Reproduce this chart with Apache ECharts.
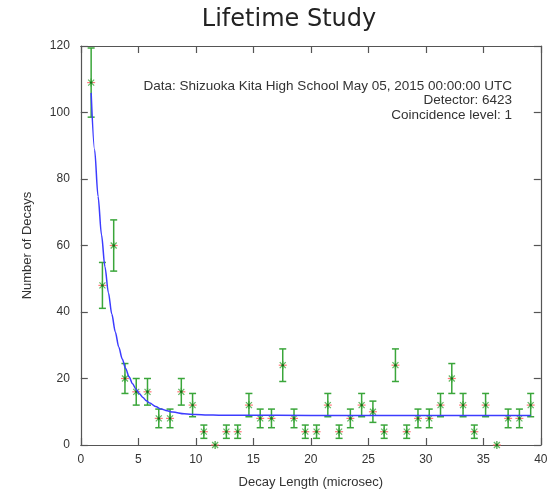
<!DOCTYPE html>
<html>
<head>
<meta charset="utf-8">
<script src="https://cdn.jsdelivr.net/npm/echarts@6/dist/echarts.min.js"></script>
<style>
  html, body { margin: 0; padding: 0; background: #ffffff; }
  #chart { width: 553px; height: 490px; }
</style>
</head>
<body>
<div id="chart"></div>
<script>
// Decay time bins (microsec), counts per bin and their statistical uncertainty
const decayTimes = [0.90, 1.88, 2.86, 3.84, 4.82, 5.80, 6.78, 7.76, 8.74, 9.72,
                    10.70, 11.68, 12.66, 13.64, 14.62, 15.60, 16.58, 17.56, 18.54, 19.52,
                    20.50, 21.48, 22.46, 23.44, 24.42, 25.40, 26.38, 27.36, 28.34, 29.32,
                    30.30, 31.28, 32.26, 33.24, 34.22, 35.20, 36.18, 37.16, 38.14, 39.12];
const decayCounts = [109, 48, 60, 20, 16, 16, 8, 8, 16, 12,
                     4, 0, 4, 4, 12, 8, 8, 24, 8, 4,
                     4, 12, 4, 8, 12, 10, 4, 24, 4, 8,
                     8, 12, 20, 12, 4, 12, 0, 8, 8, 12];
const countErrors = [10.4, 6.9, 7.7, 4.5, 4.0, 4.0, 2.8, 2.8, 4.0, 3.5,
                     2.0, 0, 2.0, 2.0, 3.5, 2.8, 2.8, 4.9, 2.8, 2.0,
                     2.0, 3.5, 2.0, 2.8, 3.5, 3.2, 2.0, 4.9, 2.0, 2.8,
                     2.8, 3.5, 4.5, 3.5, 2.0, 3.5, 0, 2.8, 2.8, 3.5];

// Exponential fit curve, sampled along the decay-time axis
const fitTimes  = [0.9, 1.2, 1.5, 1.8, 2.1, 2.4, 2.7, 3.0, 3.3, 3.6, 3.9, 4.2, 4.5, 4.8,
                   5.1, 5.4, 5.7, 6.0, 6.5, 7.0, 7.5, 8.0, 9.0, 10.0, 11.0, 12.0, 14.0,
                   20.0, 30.0, 39.12];
const fitCounts = [105.9, 88.8, 74.8, 63.2, 53.6, 45.8, 39.3, 34.0, 29.5, 25.9, 23.0, 20.5, 18.4, 16.8,
                   15.4, 14.3, 13.3, 12.6, 11.6, 10.8, 10.3, 9.9, 9.4, 9.15, 9.03, 8.97, 8.92,
                   8.9, 8.9, 8.9];

// Axis ticks
const xTicks = { min: 0, max: 40, step: 5 };
const yTicks = { min: 0, max: 120, step: 20 };

const infoLines = [
  'Data: Shizuoka Kita High School May 05, 2015 00:00:00 UTC',
  'Detector: 6423',
  'Coincidence level: 1'
];

const pointTable = decayTimes.map((t, i) => [t, decayCounts[i], countErrors[i]]);
const fitTable = fitTimes.map((t, i) => [t, fitCounts[i]]);

const FONT = '"Liberation Sans", Arial, Helvetica, sans-serif';
const frameColor = '#555555';
const labelColor = '#333333';
const barColor = '#3aa63a';
const starColor = '#ff5a5a';

const chart = echarts.init(document.getElementById('chart'), null, { renderer: 'canvas' });

function renderPoint(params, api) {
  const x = api.value(0), y = api.value(1), e = api.value(2);
  const c = api.coord([x, y]);
  const children = [];
  const lw = 1.5;
  if (e > 0) {
    const top = api.coord([x, y + e]);
    const bot = api.coord([x, y - e]);
    const cap = 3.5;
    children.push(
      { type: 'line', shape: { x1: c[0], y1: top[1], x2: c[0], y2: bot[1] }, style: { stroke: barColor, lineWidth: lw } },
      { type: 'line', shape: { x1: c[0] - cap, y1: top[1], x2: c[0] + cap, y2: top[1] }, style: { stroke: barColor, lineWidth: lw } },
      { type: 'line', shape: { x1: c[0] - cap, y1: bot[1], x2: c[0] + cap, y2: bot[1] }, style: { stroke: barColor, lineWidth: lw } }
    );
  }
  // asterisk marker: green "+" and "x" with a red horizontal stroke
  const s = 4, d = 3;
  children.push(
    { type: 'line', shape: { x1: c[0] - s, y1: c[1], x2: c[0] + s, y2: c[1] }, style: { stroke: starColor, lineWidth: 1.2, opacity: 0.8 } },
    { type: 'line', shape: { x1: c[0] - d, y1: c[1] - d, x2: c[0] + d, y2: c[1] + d }, style: { stroke: barColor, lineWidth: 1.2, opacity: 0.8 } },
    { type: 'line', shape: { x1: c[0] - d, y1: c[1] + d, x2: c[0] + d, y2: c[1] - d }, style: { stroke: barColor, lineWidth: 1.2, opacity: 0.8 } },
    { type: 'line', shape: { x1: c[0], y1: c[1] - s, x2: c[0], y2: c[1] + s }, style: { stroke: barColor, lineWidth: 1.2 } },
    { type: 'circle', shape: { cx: c[0], cy: c[1], r: 1.2 }, style: { fill: '#1a6a1a' } }
  );
  return { type: 'group', children: children };
}

const frameLine = { show: true, onZero: false, lineStyle: { color: frameColor, width: 1.2 } };
const innerTick = { show: true, inside: true, length: 7, lineStyle: { color: frameColor, width: 1.2 } };

const option = {
  backgroundColor: '#ffffff',
  animation: false,
  grid: { left: 80.8, right: 12.2, top: 46, bottom: 45, show: false, containLabel: false, outerBoundsMode: 'none' },
  xAxis: [
    {
      type: 'value', position: 'bottom', min: xTicks.min, max: xTicks.max, interval: xTicks.step,
      name: 'Decay Length (microsec)', nameLocation: 'middle', nameGap: 31,
      nameTextStyle: { fontFamily: FONT, fontSize: 13, color: labelColor },
      axisLine: frameLine,
      axisTick: innerTick,
      axisLabel: { fontFamily: FONT, fontSize: 12, color: labelColor, margin: 9 },
      splitLine: { show: false }
    },
    {
      type: 'value', position: 'top', min: xTicks.min, max: xTicks.max, interval: xTicks.step,
      axisLine: frameLine, axisTick: innerTick,
      axisLabel: { show: false }, splitLine: { show: false }
    }
  ],
  yAxis: [
    {
      type: 'value', position: 'left', min: yTicks.min, max: yTicks.max, interval: yTicks.step,
      name: 'Number of Decays', nameLocation: 'middle', nameGap: 47,
      nameTextStyle: { fontFamily: FONT, fontSize: 13, color: labelColor },
      axisLine: frameLine,
      axisTick: innerTick,
      axisLabel: { fontFamily: FONT, fontSize: 12, color: labelColor, margin: 11 },
      splitLine: { show: false }
    },
    {
      type: 'value', position: 'right', min: yTicks.min, max: yTicks.max, interval: yTicks.step,
      axisLine: frameLine, axisTick: innerTick,
      axisLabel: { show: false }, splitLine: { show: false }
    }
  ],
  series: [
    {
      type: 'custom',
      name: 'counts',
      xAxisIndex: 0, yAxisIndex: 0,
      data: pointTable,
      renderItem: renderPoint,
      clip: false,
      z: 2
    },
    {
      type: 'line',
      name: 'fit',
      xAxisIndex: 0, yAxisIndex: 0,
      data: fitTable,
      smooth: 0.3,
      smoothMonotone: 'x',
      showSymbol: false,
      lineStyle: { color: '#3c3cff', width: 1.5 },
      z: 3
    }
  ],
  graphic: [
    {
      type: 'text', x: 289, y: 20,
      style: { text: 'Lifetime Study', font: '24px "DejaVu Sans", sans-serif', fill: '#222222', textAlign: 'center', textVerticalAlign: 'middle' }
    },
    {
      type: 'text', x: 512, y: 86,
      style: { text: infoLines[0], font: '13.5px ' + FONT, fill: labelColor, textAlign: 'right', textVerticalAlign: 'middle' }
    },
    {
      type: 'text', x: 512, y: 100.5,
      style: { text: infoLines[1], font: '13.5px ' + FONT, fill: labelColor, textAlign: 'right', textVerticalAlign: 'middle' }
    },
    {
      type: 'text', x: 512, y: 115,
      style: { text: infoLines[2], font: '13.5px ' + FONT, fill: labelColor, textAlign: 'right', textVerticalAlign: 'middle' }
    }
  ]
};

chart.setOption(option);
</script>
</body>
</html>
